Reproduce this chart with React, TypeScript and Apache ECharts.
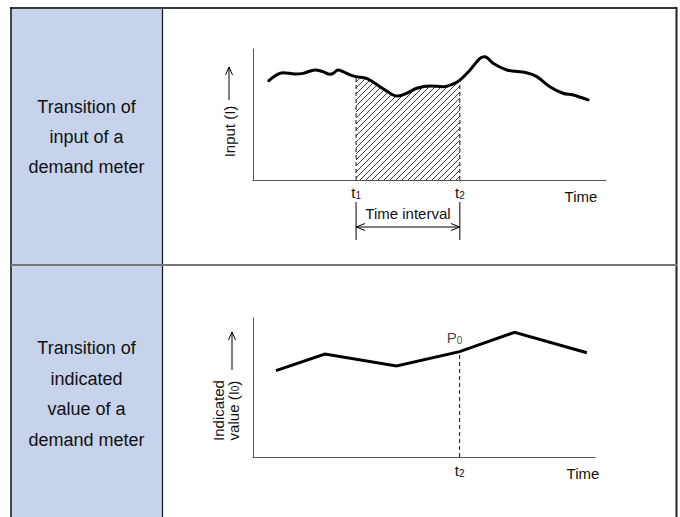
import React, { useEffect, useRef } from 'react';
import * as echarts from 'echarts';

// ---- data ----
const inputTime = [4.5, 8.5, 11.9, 14.2, 17.6, 19.8, 21.8, 22.7, 24.1, 25.5, 27.5, 29.2, 32.2, 36.0, 39.7, 41.1, 43.5, 46.4, 50.1, 53.8, 56.7, 58.6, 61.5, 64.3, 65.7, 68.0, 71.9, 77.5, 80.4, 84.1, 87.8, 90.7, 94.9];
const inputValue = [75.8, 81.9, 80.9, 81.4, 84.0, 82.7, 80.7, 81.4, 84.0, 82.7, 80.2, 78.9, 77.6, 71.2, 64.9, 64.1, 66.2, 70.0, 71.8, 71.2, 73.3, 76.3, 84.0, 92.9, 94.1, 89.1, 84.0, 81.9, 78.9, 71.2, 66.2, 64.9, 61.1];
const t1Index = 11;
const t2Index = 21;
const indicatedTime = [6.5, 20.4, 40.7, 58.6, 74.2, 94.7];
const indicatedValue = [62.1, 74.1, 65.5, 75.8, 89.7, 75.0];
const p0Index = 3;
const rowTitles = ['Transition of\ninput of a\ndemand meter', 'Transition of\nindicated\nvalue of a\ndemand meter'];
const topYLabel = 'Input (I)';
const lowYLabel = ['Indicated', 'value (I{s|0})'];
const timeLabel = 'Time';
const intervalLabel = 'Time interval';

const FONT = '"Liberation Sans", Arial, Helvetica, sans-serif';
const INK = '#111';

export default function App() {
  const ref = useRef<HTMLDivElement>(null);
  useEffect(() => {
    document.body.style.margin = '0';
    const chart = echarts.init(ref.current!, null, { renderer: 'svg' });

    const inputData = inputTime.map((t, i) => [t, inputValue[i]]);
    const hatchData = inputData.slice(t1Index, t2Index + 1);
    const t1 = inputTime[t1Index];
    const t2 = inputTime[t2Index];
    const indData = indicatedTime.map((t, i) => [t, indicatedValue[i]]);
    const tP = indicatedTime[p0Index];
    const vP = indicatedValue[p0Index];

    const hatch = document.createElement('canvas');
    hatch.width = 6;
    hatch.height = 6;
    const ctx = hatch.getContext('2d')!;
    ctx.strokeStyle = '#222';
    ctx.lineWidth = 0.9;
    ctx.beginPath();
    ctx.moveTo(0, 6); ctx.lineTo(6, 0);
    ctx.moveTo(-1, 1); ctx.lineTo(1, -1);
    ctx.moveTo(5, 7); ctx.lineTo(7, 5);
    ctx.stroke();

    const rich = {
      m: { fontSize: 15, fontFamily: FONT, color: INK },
      s: { fontSize: 10, fontFamily: FONT, color: INK, verticalAlign: 'bottom', padding: [4, 0, 0, 0] },
    };

    const axisLine = { show: true, lineStyle: { color: '#555', width: 1 } };
    const dashed = { type: [4, 3], width: 1, color: INK };

    chart.setOption({
      animation: false,
      textStyle: { fontFamily: FONT },
      grid: [
        { left: 253, top: 49, width: 353, height: 131 },
        { left: 253, top: 318, width: 342, height: 139 },
      ],
      xAxis: [
        {
          type: 'value', gridIndex: 0, min: 0, max: 100,
          axisLine, axisTick: { show: false }, splitLine: { show: false },
          axisLabel: {
            customValues: [t1, t2], margin: 5,
            formatter: (v: number) => (Math.abs(v - t1) < 1e-6 ? '{m|t}{s|1}' : '{m|t}{s|2}'),
            rich,
          },
        },
        {
          type: 'value', gridIndex: 1, min: 0, max: 97,
          axisLine, axisTick: { show: false }, splitLine: { show: false },
          axisLabel: { customValues: [tP], margin: 6, formatter: () => '{m|t}{s|2}', rich },
        },
      ],
      yAxis: [
        { type: 'value', gridIndex: 0, min: 0, max: 100, axisLine, axisTick: { show: false }, axisLabel: { show: false }, splitLine: { show: false } },
        { type: 'value', gridIndex: 1, min: 0, max: 100, axisLine, axisTick: { show: false }, axisLabel: { show: false }, splitLine: { show: false } },
      ],
      series: [
        {
          type: 'line', xAxisIndex: 0, yAxisIndex: 0, data: hatchData, smooth: 0.35,
          symbol: 'none', lineStyle: { width: 0 }, z: 1,
          areaStyle: { color: { image: hatch, repeat: 'repeat' }, opacity: 1 },
        },
        { type: 'line', xAxisIndex: 0, yAxisIndex: 0, data: [[t1, 0], [t1, inputValue[t1Index]]], symbol: 'none', lineStyle: dashed, z: 2 },
        { type: 'line', xAxisIndex: 0, yAxisIndex: 0, data: [[t2, 0], [t2, inputValue[t2Index]]], symbol: 'none', lineStyle: dashed, z: 2 },
        {
          type: 'line', xAxisIndex: 0, yAxisIndex: 0, data: inputData, smooth: 0.35,
          symbol: 'none', lineStyle: { width: 3, color: '#000', cap: 'round', join: 'round' }, z: 3,
        },
        { type: 'line', xAxisIndex: 1, yAxisIndex: 1, data: [[tP, 0], [tP, vP]], symbol: 'none', lineStyle: dashed, z: 2 },
        {
          type: 'line', xAxisIndex: 1, yAxisIndex: 1, data: indData,
          symbol: 'none', lineStyle: { width: 3, color: '#000', join: 'miter' }, z: 3,
        },
        {
          type: 'scatter', xAxisIndex: 1, yAxisIndex: 1, data: [[tP, vP]], symbolSize: 1,
          itemStyle: { color: 'rgba(0,0,0,0)' }, z: 4,
          label: { show: true, position: 'top', distance: 6, offset: [-5, 0], formatter: '{m|P}{s|0}', rich },
        },
      ],
    });

    const px = (xi: number, v: number) => chart.convertToPixel({ xAxisIndex: xi }, v) as number;
    const p1 = px(0, t1);
    const p2 = px(0, t2);

    const txt = (x: number, y: number, text: string, extra: any = {}) => ({
      type: 'text', x, y, silent: true,
      style: { text, fontFamily: FONT, fontSize: 15, fill: INK, align: 'center', verticalAlign: 'middle', rich, ...extra },
      ...(extra.rotation !== undefined ? { rotation: extra.rotation } : {}),
    });
    const ln = (x1: number, y1: number, x2: number, y2: number, stroke = '#000', lineWidth = 1) => ({
      type: 'line', silent: true, shape: { x1, y1, x2, y2 }, style: { stroke, lineWidth },
    });
    const head = (pts: number[][]) => ({ type: 'polyline', silent: true, shape: { points: pts }, style: { stroke: '#000', lineWidth: 1, fill: null } });

    const rot = Math.PI / 2;
    const graphic: any[] = [
      { type: 'rect', silent: true, shape: { x: 11, y: 8, width: 151.5, height: 515 }, style: { fill: '#c6d3eb' }, z: -10 },
      ln(10, 8, 677, 8, '#3a3a3a', 2),
      ln(11, 7, 11, 517, '#111', 1.5),
      ln(162.5, 8, 162.5, 517, '#111', 1.2),
      ln(676.5, 7, 676.5, 517, '#222', 2),
      ln(11, 265, 677, 265, '#777', 2),
      {
        type: 'text', x: 86.5, y: 137, silent: true,
        style: { text: rowTitles[0], fontFamily: FONT, fontSize: 18, lineHeight: 30, fill: INK, align: 'center', verticalAlign: 'middle' },
      },
      {
        type: 'text', x: 86.5, y: 394, silent: true,
        style: { text: rowTitles[1], fontFamily: FONT, fontSize: 18, lineHeight: 30.5, fill: INK, align: 'center', verticalAlign: 'middle' },
      },
      // y axis names
      { type: 'text', x: 229, y: 131.5, rotation: rot, silent: true, style: { text: topYLabel, fontFamily: FONT, fontSize: 15, fill: INK, align: 'center', verticalAlign: 'middle' } },
      ln(229, 100, 229, 67),
      head([[225.5, 75], [229, 67], [232.5, 75]]),
      { type: 'text', x: 218, y: 410.5, rotation: rot, silent: true, style: { text: lowYLabel[0], fontFamily: FONT, fontSize: 15, fill: INK, align: 'center', verticalAlign: 'middle' } },
      { type: 'text', x: 233, y: 410.5, rotation: rot, silent: true, style: { text: '{m|value (I}{s|0}{m|)}', rich, fontFamily: FONT, fontSize: 15, fill: INK, align: 'center', verticalAlign: 'middle' } },
      ln(232, 370, 232, 332),
      head([[228.5, 340], [232, 332], [235.5, 340]]),
      // time labels
      { type: 'text', x: 581, y: 196, silent: true, style: { text: timeLabel, fontFamily: FONT, fontSize: 15, fill: INK, align: 'center', verticalAlign: 'middle' } },
      { type: 'text', x: 583, y: 473, silent: true, style: { text: timeLabel, fontFamily: FONT, fontSize: 15, fill: INK, align: 'center', verticalAlign: 'middle' } },
      // interval bracket
      ln(p1, 202, p1, 240),
      ln(p2, 202, p2, 240),
      ln(p1, 227, p2, 227),
      head([[p1 + 9, 223.5], [p1, 227], [p1 + 9, 230.5]]),
      head([[p2 - 9, 223.5], [p2, 227], [p2 - 9, 230.5]]),
      { type: 'text', x: (p1 + p2) / 2, y: 213, silent: true, style: { text: intervalLabel, fontFamily: FONT, fontSize: 15, fill: INK, align: 'center', verticalAlign: 'middle' } },
    ];
    chart.setOption({ graphic });

    return () => chart.dispose();
  }, []);
  return <div ref={ref} style={{ width: 680, height: 517 }} />;
}
